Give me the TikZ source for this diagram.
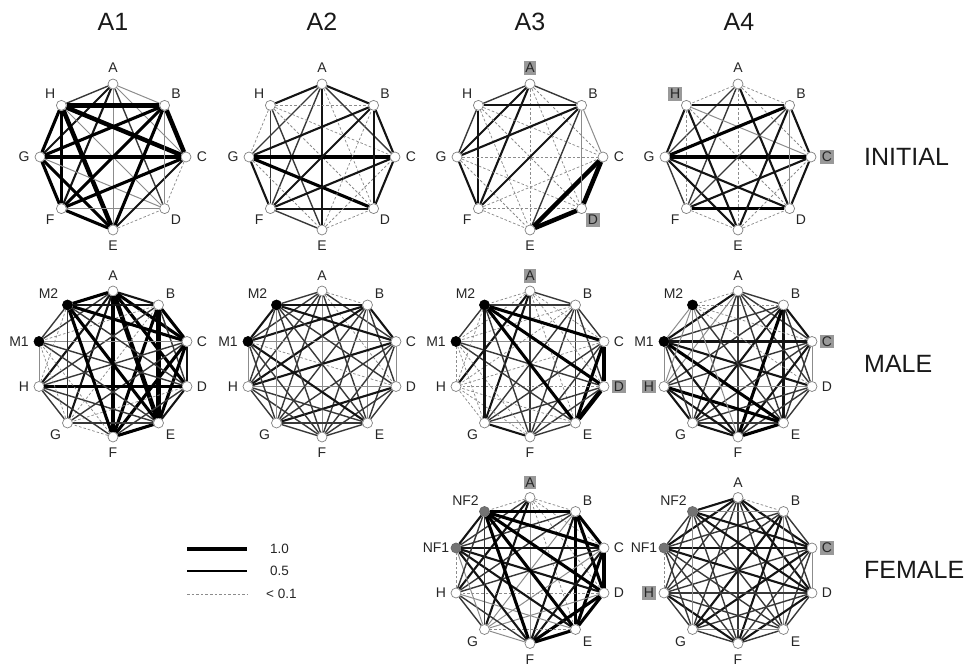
\documentclass[tikz,border=0pt]{standalone}
\usepackage{fontspec}
\setmainfont{Liberation Sans}
\tikzset{
  vn/.style={circle, draw=black!50, fill=white, line width=0.7pt, inner sep=0pt, minimum size=10pt},
  vmale/.style={vn, fill=black, draw=black},
  vfem/.style={vn, fill=black!55, draw=black!60},
  lb/.style={font=\fontsize{14}{15}\selectfont, text=black!85, inner sep=1pt},
  hl/.style={lb, fill=black!40, inner sep=1.8pt},
  hdr/.style={font=\fontsize{25}{26}\selectfont, text=black!90, inner sep=0pt},
  lg/.style={font=\fontsize{13.5}{14}\selectfont, text=black!85, inner sep=0pt, anchor=west},
  e0/.style={black!45, line width=0.75pt, dash pattern=on 2.6pt off 2pt},
  e1/.style={black!45, line width=1.0pt},
  e2/.style={black!78, line width=1.4pt},
  e3/.style={black!92, line width=2.1pt},
  e4/.style={black, line width=3.1pt},
  e5/.style={black, line width=4.5pt},
}
\newcommand\MarkHL[2]{\expandafter\def\csname hl@#1@#2\endcsname{}}
\newcommand\PutLabel[4]{% prefix, name, x, y
  \ifcsname hl@#1@#2\endcsname
    \node[hl] (#1#2-l) at (#3,#4) {#2};
  \else
    \node[lb] (#1#2-l) at (#3,#4) {#2};
  \fi}
\newcommand\MyOct[3]{%
  \foreach \n/\a in {A/90,B/45,C/0,D/-45,E/-90,F/-135,G/180,H/135}{%
    \node[vn] (#1\n) at ({#2+73*cos(\a)},{#3+73*sin(\a)}) {};
    \PutLabel{#1}{\n}{{#2+89*cos(\a)}}{{#3+89*sin(\a)}}
  }}
\newcommand\MyDec[6]{% prefix, cx, cy, style of I/J, label I, label J
  \foreach \n/\dx/\dy/\lx/\ly in {A/0/73/0/15, B/45.5/59/12/11, C/74/22.5/15/0, D/74/-22.5/15/0,
      E/45.5/-59/12/-12, F/0/-73/0/-16, G/-45.5/-59/-12/-12, H/-74/-22.5/-15/0}{%
    \node[vn] (#1\n) at ({#2+\dx},{#3+\dy}) {};
    \PutLabel{#1}{\n}{{#2+\dx+\lx}}{{#3+\dy+\ly}}
  }
  \node[#4] (#1I) at ({#2-74},{#3+22.5}) {};
  \node[lb] (#1I-l) at ({#2-74-20},{#3+22.5}) {#5};
  \node[#4] (#1J) at ({#2-45.5},{#3+59}) {};
  \node[lb] (#1J-l) at ({#2-45.5-19},{#3+59+11}) {#6};
}
\newcommand\MyEdges[2]{\foreach \u/\v/\s in {#2}{\draw[\s] (#1\u) -- (#1\v);}}
\begin{document}
\begin{tikzpicture}[x=1pt,y=1pt]
\useasboundingbox (0,0) rectangle (969,668);
% headers
\node[hdr] (hA1) at (113,646) {A1};
\node[hdr] (hA2) at (322,646) {A2};
\node[hdr] (hA3) at (530,646) {A3};
\node[hdr] (hA4) at (739,646) {A4};
\node[hdr, anchor=west] (rI) at (864,511) {INITIAL};
\node[hdr, anchor=west] (rM) at (864,304) {MALE};
\node[hdr, anchor=west] (rF) at (864,98) {FEMALE};
% highlights
\MarkHL{ci}{A}\MarkHL{ci}{D}
\MarkHL{di}{H}\MarkHL{di}{C}
\MarkHL{cm}{A}\MarkHL{cm}{D}
\MarkHL{dm}{C}\MarkHL{dm}{H}
\MarkHL{cf}{A}
\MarkHL{df}{C}\MarkHL{df}{H}
% ---------- INITIAL ----------
\MyOct{ai}{113}{511}
\MyEdges{ai}{A/B/e1, A/H/e2, A/C/e1, A/D/e2, A/E/e1, A/F/e3, A/G/e3,
 H/B/e5, H/C/e5, H/D/e1, H/E/e5, H/F/e4, H/G/e4,
 G/B/e4, G/C/e5, G/D/e1, G/E/e4, G/F/e4,
 F/B/e4, F/C/e4, F/D/e1, F/E/e4,
 E/B/e4, E/C/e3, E/D/e0,
 B/C/e5, B/D/e1, C/D/e0}
\MyOct{bi}{322}{511}
\MyEdges{bi}{A/B/e3, A/H/e3, A/C/e2, A/D/e0, A/E/e3, A/F/e2, A/G/e2,
 H/B/e0, H/C/e0, H/D/e0, H/E/e2, H/F/e2, H/G/e0,
 G/B/e3, G/C/e4, G/D/e4, G/E/e0, G/F/e3,
 F/B/e3, F/C/e3, F/D/e3, F/E/e2,
 E/B/e0, E/C/e0, E/D/e0,
 B/C/e3, B/D/e3, C/D/e3}
\MyOct{ci}{530}{511}
\MyEdges{ci}{A/B/e2, A/H/e2, A/C/e0, A/D/e0, A/E/e0, A/F/e3, A/G/e3,
 H/B/e3, H/C/e0, H/D/e0, H/E/e0, H/F/e3, H/G/e2,
 G/B/e3, G/C/e0, G/D/e0, G/E/e0, G/F/e3,
 F/B/e3, F/C/e0, F/D/e0, F/E/e0,
 E/B/e2, E/C/e5, E/D/e5,
 B/C/e1, B/D/e1, C/D/e5}
\MyOct{di}{738}{511}
\MyEdges{di}{A/B/e0, A/H/e0, A/C/e0, A/D/e3, A/E/e0, A/F/e2, A/G/e2,
 H/B/e3, H/C/e1, H/D/e0, H/E/e3, H/F/e0, H/G/e3,
 G/B/e4, G/C/e4, G/D/e3, G/E/e3, G/F/e2,
 F/B/e2, F/C/e3, F/D/e4, F/E/e0,
 E/B/e3, E/C/e0, E/D/e0,
 B/C/e3, B/D/e1, C/D/e3}
% ---------- MALE ----------
\MyDec{am}{113}{304}{vmale}{M1}{M2}
\MyEdges{am}{A/B/e3, A/C/e4, A/D/e4, A/E/e5, A/F/e4, A/G/e3, A/H/e3, A/I/e2, A/J/e4,
 B/C/e4, B/D/e2, B/E/e5, B/F/e4, B/G/e0, B/H/e2, B/I/e0, B/J/e3,
 C/D/e3, C/E/e4, C/F/e4, C/G/e2, C/H/e2, C/I/e1, C/J/e4,
 D/E/e3, D/F/e2, D/G/e0, D/H/e4, D/I/e2, D/J/e2,
 E/F/e4, E/G/e2, E/H/e2, E/I/e2, E/J/e4,
 F/G/e0, F/H/e2, F/I/e0, F/J/e4,
 G/H/e2, G/I/e0, G/J/e2,
 H/I/e1, H/J/e0, I/J/e2}
\MyDec{bm}{322}{304}{vmale}{M1}{M2}
\MyEdges{bm}{A/B/e0, A/C/e2, A/D/e0, A/E/e2, A/F/e1, A/G/e2, A/H/e2, A/I/e2, A/J/e2,
 B/C/e3, B/D/e2, B/E/e1, B/F/e2, B/G/e2, B/H/e3, B/I/e3, B/J/e3,
 C/D/e1, C/E/e2, C/F/e2, C/G/e2, C/H/e3, C/I/e1, C/J/e3,
 D/E/e2, D/F/e2, D/G/e3, D/H/e1, D/I/e0, D/J/e2,
 E/F/e2, E/G/e2, E/H/e2, E/I/e3, E/J/e2,
 F/G/e2, F/H/e2, F/I/e2, F/J/e2,
 G/H/e2, G/I/e2, G/J/e1,
 H/I/e1, H/J/e2, I/J/e3}
\MyDec{cm}{530}{304}{vmale}{M1}{M2}
\MyEdges{cm}{A/B/e2, A/C/e0, A/D/e0, A/E/e0, A/F/e2, A/G/e3, A/H/e3, A/I/e0, A/J/e0,
 B/C/e2, B/D/e2, B/E/e2, B/F/e2, B/G/e2, B/H/e0, B/I/e0, B/J/e2,
 C/D/e5, C/E/e4, C/F/e2, C/G/e2, C/H/e0, C/I/e1, C/J/e4,
 D/E/e5, D/F/e2, D/G/e2, D/H/e0, D/I/e2, D/J/e4,
 E/F/e2, E/G/e1, E/H/e0, E/I/e2, E/J/e4,
 F/G/e3, F/H/e0, F/I/e0, F/J/e2,
 G/H/e0, G/I/e0, G/J/e3,
 H/I/e0, H/J/e0, I/J/e2}
\MyDec{dm}{738}{304}{vmale}{M1}{M2}
\MyEdges{dm}{A/B/e2, A/C/e2, A/D/e2, A/E/e2, A/F/e2, A/G/e2, A/H/e1, A/I/e3, A/J/e0,
 B/C/e3, B/D/e2, B/E/e3, B/F/e4, B/G/e3, B/H/e2, B/I/e2, B/J/e0,
 C/D/e1, C/E/e2, C/F/e3, C/G/e2, C/H/e2, C/I/e3, C/J/e0,
 D/E/e2, D/F/e2, D/G/e2, D/H/e1, D/I/e3, D/J/e0,
 E/F/e4, E/G/e2, E/H/e4, E/I/e4, E/J/e2,
 F/G/e3, F/H/e3, F/I/e3, F/J/e1,
 G/H/e3, G/I/e2, G/J/e1,
 H/I/e1, H/J/e1, I/J/e1}
% ---------- FEMALE ----------
\MyDec{cf}{530}{97.5}{vfem}{NF1}{NF2}
\MyEdges{cf}{A/B/e0, A/C/e0, A/D/e0, A/E/e0, A/F/e1, A/G/e3, A/H/e3, A/I/e2, A/J/e0,
 B/C/e4, B/D/e4, B/E/e4, B/F/e3, B/G/e1, B/H/e2, B/I/e2, B/J/e4,
 C/D/e5, C/E/e4, C/F/e3, C/G/e1, C/H/e2, C/I/e3, C/J/e4,
 D/E/e4, D/F/e4, D/G/e1, D/H/e0, D/I/e3, D/J/e4,
 E/F/e4, E/G/e0, E/H/e1, E/I/e3, E/J/e4,
 F/G/e1, F/H/e2, F/I/e3, F/J/e4,
 G/H/e2, G/I/e1, G/J/e2,
 H/I/e0, H/J/e2, I/J/e3}
\MyDec{df}{738}{97.5}{vfem}{NF1}{NF2}
\MyEdges{df}{A/B/e0, A/C/e3, A/D/e3, A/E/e2, A/F/e2, A/G/e2, A/H/e2, A/I/e3, A/J/e3,
 B/C/e2, B/D/e2, B/E/e1, B/F/e3, B/G/e3, B/H/e2, B/I/e2, B/J/e1,
 C/D/e1, C/E/e2, C/F/e2, C/G/e3, C/H/e2, C/I/e3, C/J/e3,
 D/E/e2, D/F/e3, D/G/e2, D/H/e2, D/I/e3, D/J/e3,
 E/F/e2, E/G/e1, E/H/e2, E/I/e2, E/J/e2,
 F/G/e2, F/H/e3, F/I/e2, F/J/e2,
 G/H/e2, G/I/e2, G/J/e1,
 H/I/e0, H/J/e2, I/J/e2}
% ---------- legend ----------
\coordinate (l1a) at (187,119); \coordinate (l1b) at (247,119);
\coordinate (l2a) at (187,97);  \coordinate (l2b) at (247,97);
\coordinate (l3a) at (187,74);  \coordinate (l3b) at (247,74);
\draw[black, line width=4.7pt] (l1a) -- (l1b);
\draw[black, line width=2.6pt] (l2a) -- (l2b);
\draw[e0] (l3a) -- (l3b);
\node[lg] (t1) at (270,119) {1.0};
\node[lg] (t2) at (270,97) {0.5};
\node[lg] (t3) at (266,74) {< 0.1};
\end{tikzpicture}
\end{document}
